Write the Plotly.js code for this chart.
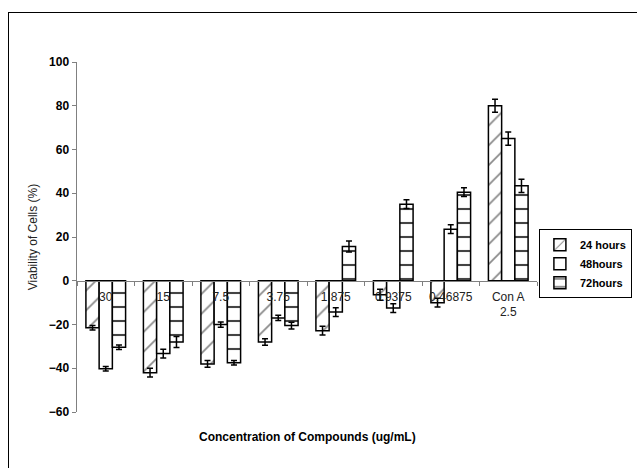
<!DOCTYPE html>
<html>
<head>
<meta charset="utf-8">
<script src="https://cdn.plot.ly/plotly-3.0.1.min.js"></script>
<style>
  html, body { margin: 0; padding: 0; background: #fff; }
  #frame { position: absolute; left: 8px; top: 12px; width: 700px; height: 500px; border: 1.5px solid #000; box-sizing: border-box; }
  #chart { position: absolute; left: 0; top: 0; width: 637px; height: 468px; }
</style>
</head>
<body>
<div id="frame"></div>
<div id="chart"></div>
<script>
const categories = ['30', '15', '7.5', '3.75', '1.875', '0.9375', '0.46875', 'Con A 2.5'];
const tickLabels = ['30', '15', '7.5', '3.75', '1.875', '0.9375', '0.46875', 'Con A<br>2.5'];
const seriesNames = ['24 hours', '48hours', '72hours'];

const h24 = [-21.5, -42, -38, -28, -22.8, -6.4, -10, 80];
const h48 = [-40.2, -33.3, -20, -17, -14.3, -12.5, 23.6, 65];
const h72 = [-30.4, -28, -37.5, -20.5, 15.7, 35, 40.5, 43.4];

const e24 = [1, 2, 1.5, 1.5, 2, 2.5, 2, 3];
const e48 = [1, 2, 1.2, 1.2, 2, 2, 2, 3];
const e72 = [1, 2.5, 1, 1.5, 2.5, 2, 2, 3];

const yTicks = [-60, -40, -20, 0, 20, 40, 60, 80, 100];

function mk(name, y, err, pattern, color) {
  return {
    type: 'bar', name: name, x: categories, y: y,
    marker: { color: color, line: { color: '#000', width: 1.5 }, pattern: pattern },
    error_y: { type: 'data', array: err, visible: true, color: '#000', thickness: 1.5, width: 3 }
  };
}

const data = [
  mk(seriesNames[0], h24, e24, { shape: '/', fgcolor: '#888', bgcolor: '#fff', size: 14, solidity: 0.12 }, '#fff'),
  mk(seriesNames[1], h48, e48, { shape: '', bgcolor: '#fff' }, '#fff'),
  mk(seriesNames[2], h72, e72, { shape: '-', fgcolor: '#444', bgcolor: '#fff', size: 14, solidity: 0.15 }, '#fff')
];

const layout = {
  width: 637, height: 468,
  margin: { l: 77, r: 100, t: 62, b: 56 },
  paper_bgcolor: 'rgba(0,0,0,0)', plot_bgcolor: 'rgba(0,0,0,0)',
  font: { family: 'Liberation Sans, Arial, sans-serif', size: 12, color: '#000' },
  barmode: 'group', bargap: 0.31, bargroupgap: 0,
  showlegend: true,
  legend: {
    xref: 'container', yref: 'container',
    x: 0.846, y: 0.51, xanchor: 'left', yanchor: 'top',
    bordercolor: '#000', borderwidth: 1, bgcolor: '#fff',
    font: { family: 'Liberation Sans, Arial, sans-serif', size: 11, color: '#000', weight: 'bold' },
    itemwidth: 30, tracegroupgap: 0
  },
  xaxis: {
    type: 'category', anchor: 'free', position: 0.375,
    showline: true, linecolor: '#808080', linewidth: 1.5,
    ticks: 'outside', ticklen: 4, tickcolor: '#808080', tickson: 'boundaries',
    tickvals: categories, ticktext: tickLabels,
    tickfont: { size: 12, color: '#222' }, ticklabelstandoff: 4,
    showgrid: false, zeroline: false, layer: 'above traces',
    title: { text: '' }
  },
  yaxis: {
    range: [-60, 100], tickvals: yTicks,
    showline: true, linecolor: '#808080', linewidth: 1.5,
    ticks: 'outside', ticklen: 4, tickcolor: '#808080',
    tickfont: { size: 12, color: '#000', weight: 'bold' },
    showgrid: false, zeroline: false,
    title: { text: 'Viability of Cells (%)', font: { size: 12, color: '#222' }, standoff: 8 }
  },
  annotations: [{
    xref: 'paper', yref: 'paper', x: 0.5, y: -0.045, yanchor: 'top', showarrow: false,
    text: 'Concentration of Compounds (ug/mL)',
    font: { size: 12, color: '#000', weight: 'bold' }
  }]
};

Plotly.newPlot('chart', data, layout, { displayModeBar: false, staticPlot: true });
</script>
</body>
</html>
